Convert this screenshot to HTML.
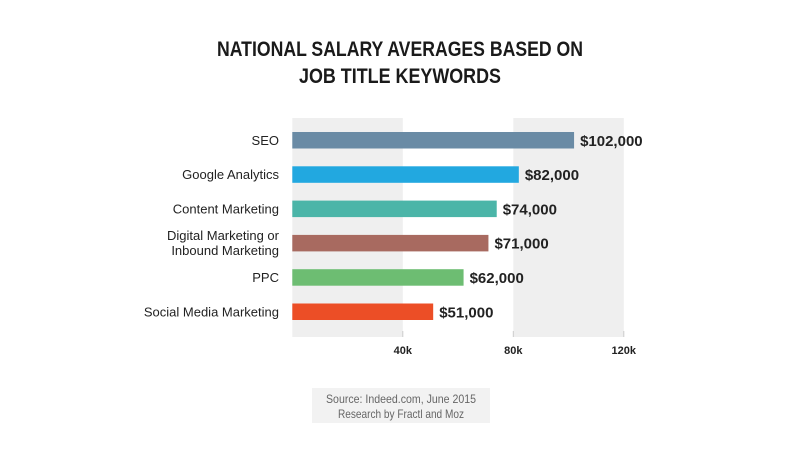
<!DOCTYPE html>
<html><head><meta charset="utf-8"><style>
body{margin:0;background:#fff;width:800px;height:444px;overflow:hidden;font-family:"Liberation Sans",sans-serif}
</style></head><body>
<svg width="800" height="444">
<text x="400" y="56" text-anchor="middle" font-size="21" font-weight="bold" fill="#1a1a1a" textLength="366" lengthAdjust="spacingAndGlyphs">NATIONAL SALARY AVERAGES BASED ON</text>
<text x="400" y="83" text-anchor="middle" font-size="21" font-weight="bold" fill="#1a1a1a" textLength="202" lengthAdjust="spacingAndGlyphs">JOB TITLE KEYWORDS</text>
<g id="plot"></g>
<rect x="312" y="388" width="178" height="35" fill="#f2f2f2"/>
<text x="401" y="403" text-anchor="middle" font-size="12" fill="#666" textLength="150" lengthAdjust="spacingAndGlyphs">Source: Indeed.com, June 2015</text>
<text x="401" y="418" text-anchor="middle" font-size="12" fill="#666" textLength="126" lengthAdjust="spacingAndGlyphs">Research by Fractl and Moz</text>
</svg>
<script>
const categories=[["SEO"],["Google Analytics"],["Content Marketing"],["Digital Marketing or","Inbound Marketing"],["PPC"],["Social Media Marketing"]];
const values=[102000,82000,74000,71000,62000,51000];
const valueLabels=["$102,000","$82,000","$74,000","$71,000","$62,000","$51,000"];
const colors=["#6a8ba5","#22a8e0","#4bb5a8","#a86a60","#6dbd72","#ec4e26"];
const ticks=[40000,80000,120000];
const tickLabels=["40k","80k","120k"];
const NS="http://www.w3.org/2000/svg";
const g=document.getElementById('plot');
const x=v=>292.3+v*(331.5/120000);
const yTop=118,yBot=337,rowStep=34.3,firstBar=132,barH=16.5;
const y=i=>firstBar+i*rowStep;
function mk(t,a){const e=document.createElementNS(NS,t);for(const k in a)e.setAttribute(k,a[k]);g.appendChild(e);return e;}
// bands
[[0,40000],[80000,120000]].forEach((b,i)=>{
 const r=mk('rect',{x:x(b[0]),y:yTop,width:x(b[1])-x(b[0]),height:yBot-yTop,fill:'#efefef'});
 
 
});
ticks.forEach((t,i)=>{
 const l=mk('line',{x1:x(t),x2:x(t),y1:yBot-6,y2:yBot,stroke:'#ccc','stroke-width':1});
 
 
 const tx=mk('text',{x:x(t),y:354,'text-anchor':'middle','font-size':11,'font-weight':'bold',fill:'#222'});
 tx.textContent=tickLabels[i];
 
 
});
values.forEach((v,i)=>{
 const r=mk('rect',{x:x(0),y:y(i),width:x(v)-x(0),height:barH,fill:colors[i]});
 
 
 const vl=mk('text',{x:x(v)+6,y:y(i)+barH/2+5.5,'font-size':15,'font-weight':'bold',fill:'#222'});
 vl.textContent=valueLabels[i];
 
 
 const lines=categories[i];
 lines.forEach((s,j)=>{
  const cy=y(i)+barH/2+4.5+(j-(lines.length-1)/2)*15;
  const c=mk('text',{x:279,y:cy,'text-anchor':'end','font-size':13,fill:'#222'});
  c.textContent=s;
  
  
 });
});
</script>
</body></html>
